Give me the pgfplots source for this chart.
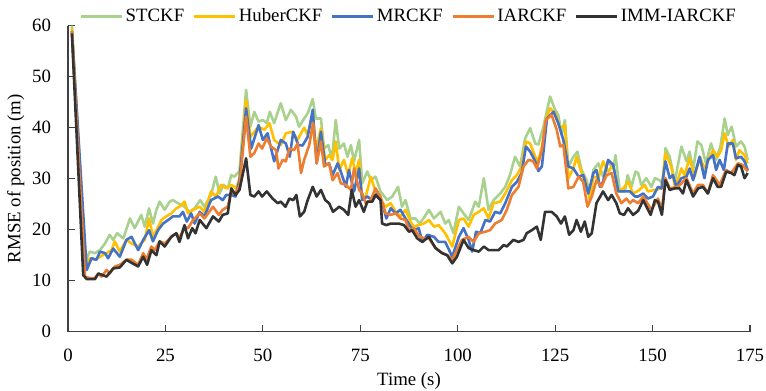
\documentclass[border=0pt]{standalone}
\usepackage{fontspec}
\setmainfont{Liberation Serif}
\usepackage{pgfplots}
\pgfplotsset{compat=1.18}
\definecolor{cgreen}{HTML}{A9D18E}
\definecolor{cyellow}{HTML}{FFC000}
\definecolor{cblue}{HTML}{4472C4}
\definecolor{corange}{HTML}{ED7D31}
\definecolor{cblack}{HTML}{333333}
\begin{document}
\begin{tikzpicture}
\begin{axis}[
 scale only axis, width=341pt, height=153pt,
 xmin=0, xmax=175, ymin=0, ymax=60,
 xtick={0,25,...,175}, ytick={0,10,...,60},
 axis x line=bottom, axis y line=left,
 axis line style={-, draw=black!75, line width=0.6pt},
 tick style={draw=black!75, line width=0.6pt},
 major tick length=3.5pt,
 tick align=inside,
 font=\fontsize{9.4}{11}\selectfont,
 /pgf/number format/assume math mode=true,
 xticklabel style={yshift=-5.2pt},
 yticklabel style={xshift=-5pt},
 xlabel={Time (s)}, ylabel={RMSE of position (m)},
 xlabel style={yshift=1.5pt},
 ylabel shift=-3pt,
 legend style={at={(0.5,1)}, anchor=south, yshift=-2.8pt, draw=none, fill=none, legend columns=5,
   nodes={inner sep=1.25pt},
   /tikz/every even column/.append style={column sep=3pt}},
 legend image code/.code={\draw[#1] (0pt,0pt) -- (20.5pt,0pt);},
 every axis plot/.append style={line width=1.3pt, line join=round},
]
\addplot[cgreen] coordinates {
(1,60) (4.35,13.7) (5.6,15.7) (6.9,15.4) (8.2,16.0) (9.5,17.3) (10.7,19.0) (11.6,18.0) (12.6,19.3) (14.2,18.3) (15.9,22.2) (17.1,20.3) (18.8,22.9) (19.7,20.6) (20.8,24.2) (21.8,21.2) (22.7,23.9) (23.5,25.5) (24.8,23.9) (26.1,25.5) (26.9,25.8) (28.2,25.2) (29.9,24.5) (31.2,23.5) (32.5,24.2) (33.9,25.8) (35.0,24.5) (36.7,26.8) (37.9,30.4) (38.9,27.1) (39.9,28.8) (41.0,28.1) (41.9,30.7) (42.7,30.4) (44.0,31.5) (45.7,47.4) (46.8,40.2) (47.8,43.1) (48.9,41.2) (50.0,41.5) (51.0,40.9) (51.8,43.1) (52.9,40.9) (54.6,44.8) (55.9,41.5) (57.2,43.5) (58.5,42.2) (59.3,40.2) (60.6,41.8) (61.5,42.8) (62.8,45.6) (63.6,41.8) (64.9,41.8) (65.7,35.9) (66.8,36.6) (67.7,33.7) (68.7,41.5) (69.6,35.9) (70.8,36.9) (71.7,34.3) (72.6,36.6) (73.4,33.4) (74.7,37.6) (75.5,29.1) (76.8,31.4) (77.7,29.7) (78.9,30.4) (80.2,27.5) (81.9,25.8) (83.2,26.5) (84.7,28.4) (85.7,24.5) (86.6,25.8) (87.9,22.2) (89.2,22.2) (90.2,21.2) (91.3,22.3) (92.6,23.9) (93.9,22.2) (95.6,23.5) (96.8,21.2) (97.7,21.9) (98.9,19.3) (100.3,24.5) (101.5,23.2) (102.8,21.9) (104.5,25.5) (105.4,24.5) (106.7,30.1) (107.9,23.9) (109.2,25.8) (110.9,27.1) (112.2,28.4) (113.4,30.7) (114.7,34.3) (116.0,32.4) (117.3,37.9) (118.6,39.9) (119.9,36.9) (120.7,36.7) (122.0,40.2) (122.8,43.0) (123.7,46.1) (125.0,43.5) (125.8,42.5) (126.7,38.6) (127.5,41.5) (128.4,32.4) (129.7,34.3) (130.7,35.3) (131.8,31.7) (133.1,29.7) (133.9,26.5) (134.8,31.7) (136.1,33.0) (137.3,30.4) (138.6,33.4) (139.9,32.0) (140.5,34.6) (141.6,27.5) (142.9,27.5) (143.6,30.7) (144.6,28.4) (145.6,31.4) (146.3,31.1) (147.1,28.8) (148.4,30.1) (149.7,28.4) (150.6,30.1) (151.8,29.7) (152.7,28.8) (153.3,36.0) (154.4,34.3) (155.7,29.4) (157.4,36.3) (158.7,33.4) (159.5,35.3) (160.4,31.7) (161.5,37.3) (162.5,36.6) (163.7,33.0) (165.0,36.9) (166.3,33.7) (167.4,36.3) (168.5,41.8) (169.3,38.6) (170.3,40.2) (171.4,36.3) (172.7,37.3) (173.6,36.3) (174.4,33.7)
};
\addlegendentry{STCKF}
\addplot[cyellow] coordinates {
(1,59.5) (4.35,12.8) (5.6,14.4) (6.9,14.1) (8.2,14.7) (9.9,15.4) (11.2,16.0) (12.0,17.7) (13.3,15.7) (15.0,18.0) (16.3,17.3) (18.0,16.7) (19.7,18.0) (20.8,22.2) (21.8,18.6) (22.7,19.9) (24.0,21.9) (25.2,22.6) (26.5,23.2) (27.8,24.2) (28.6,24.5) (29.9,25.5) (30.8,23.2) (32.1,23.9) (33.8,24.5) (35.0,23.5) (36.7,27.5) (38.0,26.5) (39.3,28.8) (40.6,28.1) (41.9,28.8) (43.1,28.1) (44.0,30.0) (45.7,45.4) (46.8,38.2) (48.9,40.2) (50.4,39.6) (51.7,40.9) (52.9,37.6) (54.6,36.6) (55.9,38.9) (57.6,39.2) (58.9,37.6) (60.6,40.0) (61.5,38.6) (62.8,42.5) (63.6,35.6) (64.9,39.9) (66.0,33.7) (67.0,34.6) (67.9,33.7) (68.7,37.3) (69.6,31.7) (70.8,33.7) (71.9,30.7) (72.9,34.0) (73.8,31.1) (74.7,33.7) (75.5,25.8) (76.4,26.5) (77.7,30.4) (78.9,27.5) (80.2,25.8) (81.5,24.5) (82.8,25.2) (84.1,23.5) (85.3,22.6) (86.6,23.9) (87.9,21.6) (88.7,20.6) (90.0,20.9) (91.3,21.2) (92.6,21.9) (93.9,20.6) (95.1,20.9) (96.8,19.3) (98.6,16.7) (100.3,21.9) (101.5,22.2) (102.8,20.6) (104.1,22.9) (105.4,23.5) (106.7,24.2) (107.9,22.2) (109.2,25.2) (110.9,25.5) (112.2,27.1) (113.9,29.7) (115.2,30.7) (116.4,32.4) (117.5,37.3) (118.6,36.9) (119.9,34.3) (120.7,33.4) (121.8,37.0) (122.6,41.5) (123.7,43.8) (125.0,42.8) (126.3,39.9) (127.5,40.5) (128.4,30.1) (129.7,32.0) (130.5,34.3) (131.8,31.1) (133.1,28.8) (133.9,25.8) (134.8,30.4) (136.1,30.1) (137.3,33.4) (138.6,31.4) (139.9,32.7) (141.2,27.5) (142.5,28.1) (143.7,29.4) (145.0,27.1) (146.3,27.6) (148.0,28.8) (148.8,27.5) (150.6,27.8) (152.3,28.1) (153.3,35.0) (154.8,32.4) (155.8,28.1) (157.4,32.0) (158.2,30.7) (159.5,34.0) (160.8,30.4) (162.1,34.3) (163.3,32.0) (164.6,34.0) (165.5,35.6) (166.7,34.3) (167.6,35.6) (168.5,38.9) (169.5,36.3) (170.6,37.6) (171.4,33.7) (172.3,35.6) (173.6,34.6) (174.4,33.0)
};
\addlegendentry{HuberCKF}
\addplot[cblue] coordinates {
(1,59) (4.8,12.1) (6.05,14.4) (7.3,14.1) (8.2,15.7) (9.5,15.4) (10.3,14.4) (11.6,16.3) (13.3,14.7) (15.0,18.0) (16.3,18.6) (18.0,16.0) (19.3,18.0) (20.8,19.9) (21.8,17.7) (23.1,19.9) (24.4,21.2) (25.7,21.9) (26.9,22.6) (28.6,22.6) (29.5,23.5) (30.5,21.6) (31.6,23.2) (32.5,21.2) (33.8,23.5) (35.0,22.6) (36.7,25.8) (38.5,26.5) (39.7,25.8) (40.6,26.8) (41.9,26.8) (43.0,26.5) (44.0,29.7) (45.7,43.8) (47.0,35.9) (48.9,40.5) (50.0,37.6) (51.2,38.9) (52.9,33.4) (54.6,37.6) (55.9,36.9) (56.9,34.3) (57.8,39.2) (59.1,36.6) (60.2,36.5) (61.5,38.2) (62.8,43.5) (63.8,33.0) (64.9,39.2) (66.0,32.7) (67.0,33.0) (67.9,30.7) (69.2,33.0) (70.0,31.4) (71.3,28.4) (72.1,31.7) (73.4,27.5) (74.7,32.0) (75.5,25.8) (76.8,26.5) (78.1,25.8) (79.4,27.1) (80.6,25.2) (81.7,22.2) (82.8,24.2) (84.1,23.2) (85.3,23.9) (86.6,22.2) (87.9,20.6) (88.7,19.9) (90.0,20.3) (90.9,17.6) (92.2,19.0) (93.9,18.6) (95.1,17.6) (96.8,17.6) (98.6,14.7) (100.3,18.6) (101.5,20.3) (102.8,18.0) (103.7,15.7) (104.7,19.6) (105.8,19.3) (107.1,21.9) (108.3,21.6) (109.6,23.5) (110.9,23.2) (112.2,25.2) (113.9,28.4) (115.2,29.4) (116.4,31.1) (117.5,36.3) (118.6,35.3) (119.9,33.4) (120.7,31.5) (121.6,32.4) (122.9,41.8) (124.6,43.1) (125.8,40.9) (127.1,37.6) (128.4,32.4) (129.7,32.0) (131.0,30.4) (132.2,30.7) (133.5,27.1) (134.8,31.1) (135.6,31.7) (136.5,28.4) (137.3,29.4) (138.6,33.7) (139.9,32.7) (141.2,27.5) (142.5,27.5) (144.2,27.5) (145.5,26.5) (146.3,26.5) (147.6,27.1) (148.8,26.1) (150.1,26.5) (151.4,28.4) (152.3,28.1) (153.3,33.4) (154.4,30.1) (155.2,30.7) (156.1,28.4) (157.4,30.1) (158.7,30.4) (159.5,32.0) (160.4,29.7) (162.1,34.3) (163.3,30.1) (164.2,33.7) (165.5,34.6) (166.3,31.7) (167.2,33.7) (168.3,31.7) (169.3,36.9) (170.6,36.9) (171.4,34.0) (172.7,34.3) (173.6,33.4) (174.4,31.7)
};
\addlegendentry{MRCKF}
\addplot[corange] coordinates {
(1,59) (4.35,10.8) (5.6,10.5) (6.9,10.5) (7.8,11.4) (8.6,10.8) (9.9,12.1) (10.7,11.4) (12.0,12.8) (13.3,13.1) (15.0,14.1) (16.3,14.1) (18.0,13.1) (19.3,15.4) (20.1,14.1) (21.4,16.7) (22.3,16.0) (23.5,17.7) (24.8,17.3) (26.5,18.6) (27.8,19.3) (28.6,18.3) (29.9,20.6) (30.8,20.3) (32.1,21.9) (33.8,23.2) (35.0,22.2) (37.2,24.5) (38.7,22.9) (39.7,23.9) (41.0,24.5) (41.9,27.5) (42.7,27.1) (44.0,28.4) (45.7,42.2) (46.8,34.3) (47.8,35.0) (48.9,36.9) (49.8,35.9) (51.0,37.9) (52.1,36.3) (53.4,35.6) (54.0,32.0) (55.1,33.7) (55.9,33.4) (56.8,35.9) (58.0,35.6) (58.9,36.9) (59.8,31.1) (60.6,33.7) (61.9,36.6) (62.9,40.9) (63.8,33.0) (64.9,37.3) (65.7,32.4) (67.0,33.0) (67.9,29.7) (69.2,31.1) (70.0,29.1) (71.3,28.8) (72.6,27.8) (73.4,32.0) (74.7,27.8) (75.5,27.1) (76.4,25.2) (77.7,25.8) (78.9,28.1) (80.2,26.5) (81.5,23.2) (82.8,22.9) (84.1,23.2) (85.3,22.2) (86.6,21.9) (87.5,19.9) (88.7,20.3) (90.0,18.8) (91.3,18.3) (92.6,18.3) (94.3,16.4) (96.0,15.4) (97.3,15.0) (98.6,14.1) (99.8,16.0) (101.1,18.0) (102.8,18.6) (104.1,17.6) (105.4,19.3) (107.1,19.6) (108.3,19.9) (109.6,21.2) (111.3,21.9) (112.6,23.9) (113.9,26.8) (115.6,28.4) (116.9,32.4) (118.2,33.7) (119.4,33.4) (120.3,32.0) (121.6,35.6) (122.6,41.5) (124.1,42.5) (125.4,39.6) (126.3,36.3) (127.1,36.6) (128.4,28.1) (129.7,28.4) (131.0,30.4) (132.2,29.4) (133.3,24.5) (134.4,26.5) (135.6,29.7) (136.9,28.4) (138.2,30.7) (139.5,31.1) (140.7,27.1) (142.0,25.2) (143.3,26.1) (144.2,25.2) (145.0,25.8) (146.3,25.2) (147.6,26.5) (149.7,23.9) (151.4,26.1) (152.4,23.9) (153.3,30.1) (154.4,28.1) (156.5,28.4) (158.7,30.1) (160.4,27.1) (161.7,28.8) (162.9,28.8) (164.2,27.1) (165.5,30.7) (167.2,28.8) (168.9,31.7) (170.2,31.1) (171.9,33.0) (173.1,32.7) (174.4,31.4)
};
\addlegendentry{IARCKF}
\addplot[cblack] coordinates {
(1,58.5) (3.9,11.1) (4.8,10.3) (6.9,10.3) (7.8,11.4) (9.9,10.8) (11.6,12.4) (13.3,12.6) (15.0,14.1) (16.3,13.5) (18.0,12.8) (19.3,14.7) (20.3,13.1) (21.4,16.0) (22.7,15.0) (23.5,17.7) (24.8,16.7) (26.5,18.6) (27.8,19.3) (28.6,17.6) (29.9,20.9) (30.8,18.3) (31.9,20.3) (32.7,19.3) (33.8,21.9) (35.5,20.3) (37.2,22.6) (38.7,21.6) (39.7,22.9) (41.0,23.2) (41.9,28.1) (43.0,26.8) (44.0,27.8) (45.7,34.0) (46.8,26.8) (47.8,26.5) (48.9,27.5) (49.8,26.5) (51.0,27.5) (52.5,26.1) (53.8,25.2) (54.6,25.5) (55.8,24.5) (56.8,26.1) (57.8,25.8) (58.6,26.8) (59.5,22.6) (60.6,23.5) (61.5,25.8) (62.8,28.4) (63.8,26.5) (64.9,27.8) (66.0,25.8) (67.0,25.2) (68.0,23.5) (69.6,24.5) (70.8,23.9) (71.9,22.9) (72.8,27.8) (73.8,24.5) (74.7,25.8) (75.9,23.5) (76.8,25.5) (78.1,25.5) (78.9,26.8) (80.2,25.8) (80.6,21.2) (81.7,20.9) (82.8,21.2) (84.9,21.2) (86.2,20.9) (87.5,19.6) (88.3,19.9) (89.6,18.3) (90.9,17.6) (92.6,18.6) (94.3,16.4) (96.0,15.4) (97.3,15.0) (98.6,13.4) (99.8,14.7) (101.5,18.0) (102.8,16.4) (104.1,16.0) (105.4,15.7) (106.7,16.7) (107.9,16.0) (109.2,16.0) (110.5,16.0) (111.8,17.0) (112.6,16.7) (114.3,18.0) (115.6,17.6) (116.9,18.0) (117.7,19.3) (119.0,19.9) (120.3,20.6) (121.3,18.0) (122.4,23.5) (124.1,23.5) (125.4,22.6) (126.5,21.2) (127.5,22.6) (128.6,19.0) (129.7,19.9) (130.5,21.9) (131.6,19.6) (132.6,21.6) (133.5,18.6) (134.4,19.3) (135.6,25.2) (137.3,27.5) (138.6,25.8) (139.5,26.8) (140.7,25.2) (141.6,23.2) (142.7,22.9) (143.7,24.2) (145.0,22.9) (146.3,23.7) (147.6,25.8) (149.5,22.9) (150.6,25.8) (151.4,25.5) (152.4,22.9) (153.3,29.7) (154.4,27.8) (155.7,28.1) (156.9,28.1) (157.8,27.1) (158.7,29.7) (160.4,26.5) (161.7,28.1) (162.9,28.4) (164.2,27.1) (165.5,30.1) (166.7,28.4) (167.6,28.4) (168.9,31.4) (170.2,31.1) (171.0,30.7) (171.9,32.7) (172.7,32.4) (173.6,30.1) (174.4,31.1)
};
\addlegendentry{IMM-IARCKF}
\end{axis}
\pgfresetboundingbox
\path ([xshift=-34pt,yshift=-29.65pt]current axis.south west) rectangle ([xshift=8pt,yshift=12.85pt]current axis.north east);
\end{tikzpicture}
\end{document}
